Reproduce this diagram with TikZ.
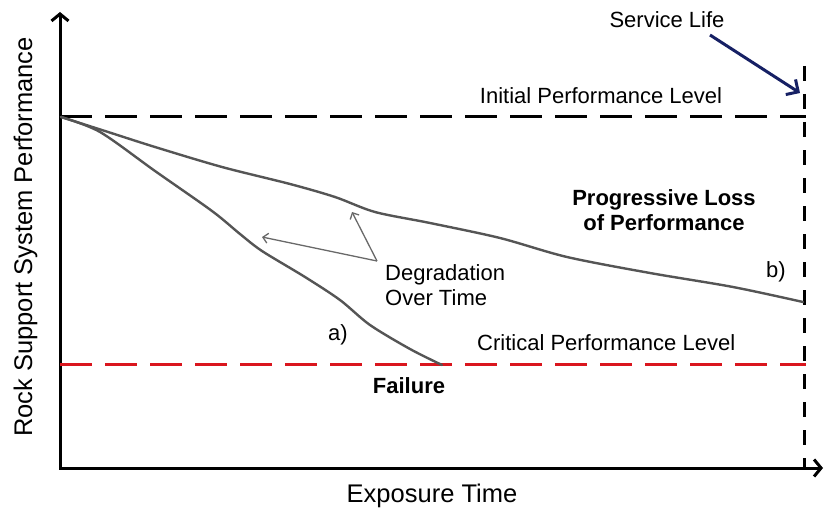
\documentclass[tikz,border=0pt]{standalone}
\usepackage{fontspec}
\setmainfont{Liberation Sans}
\usetikzlibrary{arrows.meta}
\definecolor{curvegray}{RGB}{85,85,85}
\definecolor{pointgray}{RGB}{105,105,105}
\definecolor{critred}{RGB}{218,22,30}
\definecolor{navyarrow}{RGB}{22,32,100}
\begin{document}
\begin{tikzpicture}[x=1pt,y=-1pt,
  axis/.style={line width=3pt, black, line join=miter},
  levelline/.style={line width=3pt, dash pattern=on 32pt off 13pt},
  servline/.style={line width=3pt, black, dash pattern=on 15pt off 13pt},
  perfcurve/.style={curvegray, line width=2.4pt, line join=round, line cap=round},
  pointer/.style={pointgray, line width=1.3pt, -{Straight Barb[length=5pt,width=10pt]}},
  lbl/.style={inner sep=0pt, anchor=base, font=\fontsize{22}{26}\selectfont},
  boldlbl/.style={lbl, font=\fontsize{22}{26}\selectfont\bfseries},
  axlbl/.style={inner sep=0pt, anchor=base, font=\fontsize{25.5}{30}\selectfont}]
\useasboundingbox (0,0) rectangle (824,508);

% axes
\coordinate (O) at (60,468);
\coordinate (ytop) at (60,12);
\coordinate (xend) at (823,468);
\draw[axis, {Straight Barb[length=7pt,width=17pt]}-{Straight Barb[length=7pt,width=17pt]}]
  (ytop) -- (O) -- (xend);

% reference levels
\coordinate (initL) at (60,117);
\coordinate (initR) at (806,117);
\draw[levelline] (initL) -- (initR);
\coordinate (critL) at (60,364);
\coordinate (critR) at (806,364);
\draw[levelline, critred] (critL) -- (critR);
\coordinate (servTop) at (804,66);
\coordinate (servBot) at (804,468);
\draw[servline] (servTop) -- (servBot);

% performance curves: a) early failure, b) gradual loss
\draw[perfcurve] plot[smooth, tension=0.5] coordinates {
  (61,117) (100,132) (155,171) (212,211) (240,234) (262,251) (305,277)
  (340,300) (370,325) (410,349) (442,365)};
\draw[perfcurve] plot[smooth, tension=0.5] coordinates {
  (61,117) (105,131) (155,147) (222,167) (290,184) (335,197)
  (375,212) (430,223) (500,238) (567,257) (650,273) (733,287) (803,302)};

% labels
\node[lbl] (servlife) at (667,28) {Service Life};
\node[lbl] (initlbl) at (601,103) {Initial Performance Level};
\node[boldlbl] (prog1) at (664,205) {Progressive Loss};
\node[boldlbl] (prog2) at (664,230) {of Performance};
\node[lbl] (blbl) at (776,277) {b)};
\node[lbl, anchor=base west] (deg1) at (385,280) {Degradation};
\node[lbl, anchor=base west] (deg2) at (385,305) {Over Time};
\node[lbl] (albl) at (338,340) {a)};
\node[lbl, anchor=base west] (critlbl) at (477,350) {Critical Performance Level};
\node[boldlbl] (faillbl) at (409,393) {Failure};
\node[axlbl] (xlbl) at (432,502) {Exposure Time};
\node[axlbl, rotate=90] (ylbl) at (32,237) {Rock Support System Performance};

% pointers
\coordinate (degapex) at (377,261);
\coordinate (tipA) at (262,237);
\coordinate (tipB) at (352,212);
\draw[pointer] (degapex) -- (tipA);
\draw[pointer] (degapex) -- (tipB);

\coordinate (slstart) at (710,35);
\coordinate (sltip) at (800,93);
\draw[navyarrow, line width=3pt, -{Straight Barb[length=9pt,width=18pt]}] (slstart) -- (sltip);
\end{tikzpicture}
\end{document}
